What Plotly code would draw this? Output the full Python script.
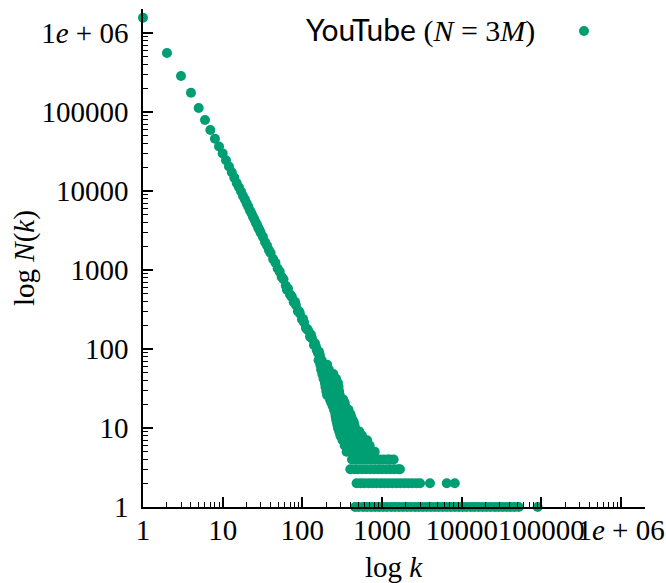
import plotly.graph_objects as go
import math

# ---- data (degree k, number of nodes N(k)) ----
head_k = [1, 2, 3, 4, 5, 6, 7, 8, 9, 10, 11, 12, 13, 14, 15, 16, 17, 18, 19, 20,
          21, 22, 23, 24, 25, 26, 27, 28, 29]
head_n = [1550000, 556000, 284000, 174000, 112000, 79000, 59000, 45600, 36500, 29800,
          24400, 20300, 17200, 14700, 12600, 11100, 9800, 8600, 7800, 6950,
          6300, 5650, 5200, 4700, 4380, 3980, 3720, 3400, 3200]

mid_k = [30, 32, 34, 36, 38, 40, 43, 46, 49, 52, 55, 58, 62, 66, 70, 74, 78, 83, 88, 93,
         99, 105, 111, 118, 125, 132, 140, 148, 157, 166]
mid_n = [2950, 2620, 2250, 2040, 1780, 1640, 1370, 1230, 1040, 950, 815, 760, 630, 580, 490,
         455, 390, 360, 300, 282, 236, 218, 184, 172, 143, 136, 112, 107, 89, 84]

spread_k = [64, 72, 81, 91, 102, 115, 128, 144, 152, 162]
spread_n = [560, 470, 395, 300, 240, 178, 152, 118, 96, 92]

# tail blob: rows of N with the k values seen on each row
blob_n = [72, 72, 63, 63, 63, 55, 55, 55, 48, 48, 48, 48, 42, 42, 42, 42,
          37, 37, 37, 37, 33, 33, 33, 33, 29, 29, 29, 29, 26, 26, 26, 26,
          23, 23, 23, 23, 21, 21, 21, 21, 19, 19, 19, 19, 17, 17, 17, 17, 17,
          15, 15, 15, 15, 15, 14, 14, 14, 14, 14, 13, 13, 13, 13, 13,
          12, 12, 12, 12, 12, 11, 11, 11, 11, 11, 10, 10, 10, 10, 10,
          9, 9, 9, 9, 9, 9, 8, 8, 8, 8, 8, 8, 7, 7, 7, 7, 7, 7, 7,
          6, 6, 6, 6, 6, 6, 6, 5, 5, 5, 5, 5, 5, 5, 5]
blob_k = [160, 175, 168, 185, 205, 172, 195, 215, 178, 200, 225, 245, 185, 210, 240, 265,
          192, 220, 250, 280, 195, 225, 255, 285, 200, 230, 260, 290, 205, 235, 265, 295,
          222, 255, 290, 325, 230, 265, 300, 340, 240, 275, 310, 345, 250, 285, 320, 360, 380,
          260, 295, 335, 375, 400, 262, 300, 340, 380, 410, 265, 300, 340, 380, 420,
          270, 305, 345, 390, 440, 275, 310, 350, 400, 450, 280, 320, 360, 410, 460,
          290, 330, 370, 420, 470, 520, 300, 340, 380, 430, 490, 560, 320, 360, 400, 450, 510, 570, 650,
          340, 380, 430, 480, 540, 610, 700, 360, 400, 450, 510, 570, 640, 720, 810]

row4_k = [420, 470, 530, 590, 660, 740, 830, 930, 1050, 1180, 1250, 1400]
row3_k = [400, 450, 500, 560, 630, 710, 800, 900, 1000, 1130, 1270, 1420, 1600, 1680]
row2_k = [480, 540, 600, 680, 760, 850, 960, 1070, 1200, 1350, 1520, 1700, 1910, 2140,
          2400, 2700, 3000, 4000, 6500, 8200]
row1_k = [460, 510, 580, 650, 730, 820, 920, 1030, 1150, 1300, 1450, 1630, 1830, 2060,
          2300, 2600, 2900, 3250, 3650, 4100, 4600, 5150, 5800, 6500, 7300, 8200, 9200,
          10300, 11500, 13000, 14500, 16300, 18300, 20500, 23000, 26000, 29000, 32500,
          36500, 41000, 46000, 52000, 90000]

k_all = (head_k + mid_k + spread_k + blob_k + row4_k + row3_k + row2_k + row1_k)
n_all = (head_n + mid_n + spread_n + blob_n + [4] * len(row4_k) + [3] * len(row3_k)
         + [2] * len(row2_k) + [1] * len(row1_k))

tick_vals = [1, 10, 100, 1000, 10000, 100000, 1000000]
tick_text = ["1", "10", "100", "1000", "10000", "100000", "1<i>e</i> + 06"]
minor_vals = [m * d for d in [1, 10, 100, 1000, 10000, 100000, 1000000] for m in range(2, 10)
              if m * d < 2e6]
axis_max = 2e6
series_name = "YouTube"

GREEN = "#009E73"
SERIF = "Liberation Serif"

fig = go.Figure(go.Scatter(
    x=k_all, y=n_all, mode="markers", cliponaxis=False, showlegend=False,
    marker=dict(size=10, color=GREEN, line=dict(width=0)),
))

axis_common = dict(
    type="log", showgrid=False, zeroline=False, showline=True, automargin=False,
    linecolor="black", linewidth=1.5, ticks="inside", ticklen=10, tickwidth=1.5,
    tickcolor="black", tickmode="array", tickvals=tick_vals, tickangle=0,
    tickfont=dict(family=SERIF, size=29, color="black"),
    range=[0, math.log10(axis_max)], mirror=False,
    minor=dict(tickmode="array", tickvals=minor_vals, ticks="inside", ticklen=5,
               tickwidth=1.2, tickcolor="black", showgrid=False),
)

fig.update_layout(
    width=666, height=583,
    margin=dict(l=143, r=21, t=9, b=76),
    plot_bgcolor="white", paper_bgcolor="white",
    xaxis=dict(**axis_common, ticktext=tick_text, ticklabelstandoff=-4),
    yaxis=dict(**axis_common, ticktext=tick_text, ticklabelstandoff=7),
    annotations=[
        dict(text="log <i>k</i>", xref="paper", yref="paper", x=0.5, y=-0.121,
             xanchor="center", yanchor="middle", showarrow=False,
             font=dict(family=SERIF, size=29, color="black")),
        dict(text="log <i>N</i>(<i>k</i>)", xref="paper", yref="paper", x=-0.237, y=0.5,
             xanchor="center", yanchor="middle", showarrow=False, textangle=-90,
             font=dict(family=SERIF, size=29, color="black")),
        dict(text='<span style="font-family:Lato">' + series_name + '</span> (<i>N</i> = 3<i>M</i>)',
             xref="paper", yref="paper", x=0.785, y=0.958,
             xanchor="right", yanchor="middle", showarrow=False,
             font=dict(family=SERIF, size=30, color="black")),
    ],
    shapes=[
        dict(type="circle", xref="paper", yref="paper", xsizemode="pixel", ysizemode="pixel",
             xanchor=0.8785, yanchor=0.956, x0=-5, x1=5, y0=-5, y1=5,
             fillcolor=GREEN, line=dict(width=0)),
    ],
)

fig.write_html("out.html")
